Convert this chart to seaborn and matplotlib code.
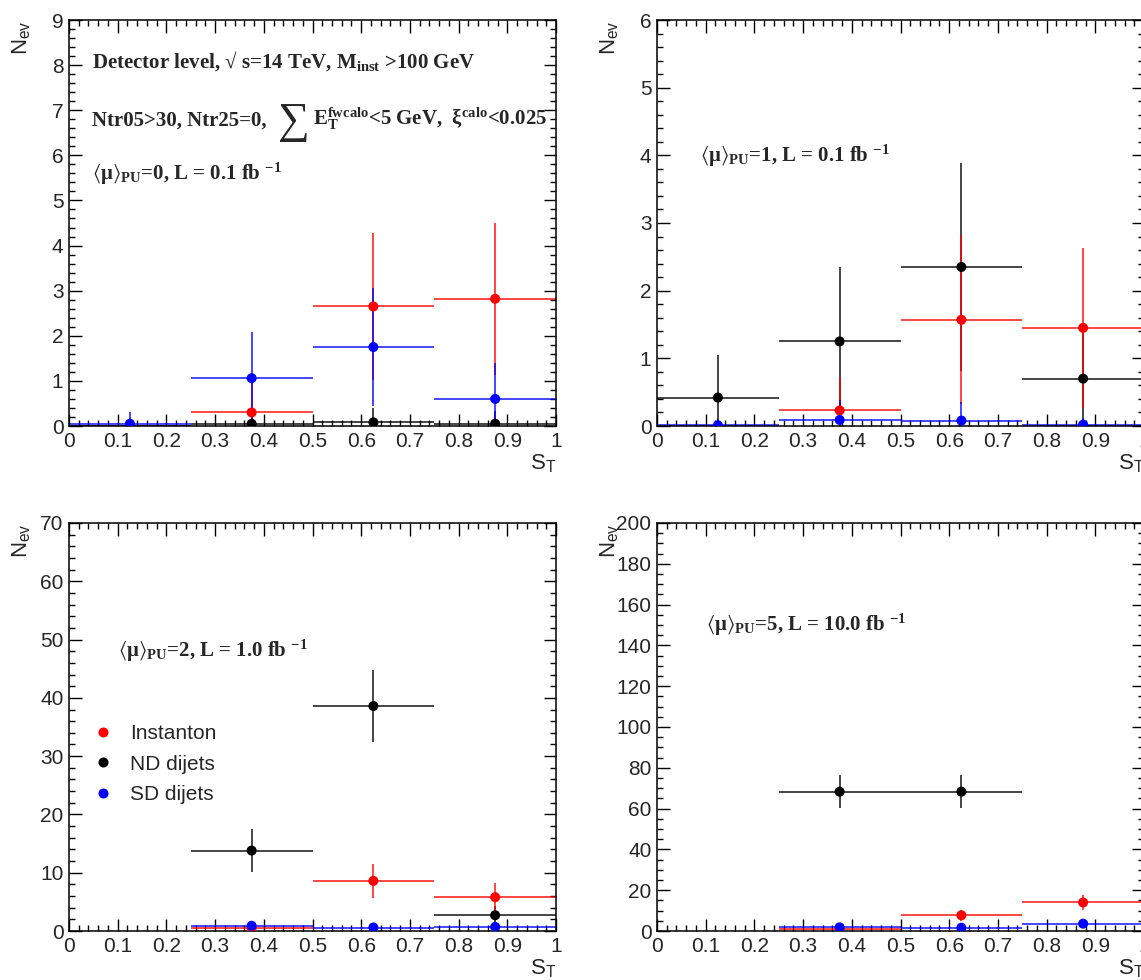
import matplotlib
matplotlib.use("Agg")
import matplotlib.pyplot as plt
from matplotlib.ticker import MultipleLocator, FuncFormatter
import numpy as np
import pandas as pd
import seaborn as sns

nan = np.nan

st_centers = [0.125, 0.375, 0.625, 0.875]
bin_half = 0.125
samples = ["Instanton", "ND dijets", "SD dijets"]
palette = {"Instanton": "#ff0000", "ND dijets": "#000000", "SD dijets": "#0000ff"}

# <mu>_PU = 0, L = 0.1 fb-1
pu0_inst = [nan, 0.30, 2.65, 2.82]
pu0_inst_err = [nan, 0.65, 1.63, 1.68]
pu0_nd = [0.0, 0.05, 0.08, 0.05]
pu0_nd_err = [0.0, 0.25, 0.32, 0.28]
pu0_sd = [0.05, 1.06, 1.75, 0.60]
pu0_sd_err = [0.25, 1.03, 1.30, 0.80]

# <mu>_PU = 1, L = 0.1 fb-1
pu1_inst = [nan, 0.23, 1.57, 1.45]
pu1_inst_err = [nan, 0.50, 1.25, 1.18]
pu1_nd = [0.42, 1.25, 2.35, 0.70]
pu1_nd_err = [0.63, 1.10, 1.53, 0.72]
pu1_sd = [0.01, 0.09, 0.08, 0.02]
pu1_sd_err = [0.10, 0.30, 0.27, 0.10]

# <mu>_PU = 2, L = 1.0 fb-1
pu2_inst = [nan, 0.5, 8.6, 5.8]
pu2_inst_err = [nan, 0.5, 2.95, 2.4]
pu2_nd = [nan, 13.8, 38.6, 2.7]
pu2_nd_err = [nan, 3.75, 6.2, 1.6]
pu2_sd = [nan, 0.9, 0.6, 0.7]
pu2_sd_err = [nan, 0.3, 0.25, 0.25]

# <mu>_PU = 5, L = 10.0 fb-1
pu5_inst = [nan, 1.2, 7.7, 14.0]
pu5_inst_err = [nan, 0.6, 2.8, 3.7]
pu5_nd = [nan, 68.3, 68.3, nan]
pu5_nd_err = [nan, 8.2, 8.2, nan]
pu5_sd = [nan, 1.8, 1.6, 3.6]
pu5_sd_err = [nan, 0.7, 0.7, 1.0]

panel_texts = [
    r"$\langle$μ$\rangle_{PU}$=0, L = 0.1 fb $^{-1}$",
    r"$\langle$μ$\rangle_{PU}$=1, L = 0.1 fb $^{-1}$",
    r"$\langle$μ$\rangle_{PU}$=2, L = 1.0 fb $^{-1}$",
    r"$\langle$μ$\rangle_{PU}$=5, L = 10.0 fb $^{-1}$",
]

sns.set_theme(style="ticks")
plt.rcParams["font.family"] = ["Liberation Sans", "DejaVu Sans"]
plt.rcParams["mathtext.default"] = "regular"
plt.rcParams["axes.linewidth"] = 1.1

serif = dict(family=["Liberation Serif", "DejaVu Serif"], weight="bold", fontsize=15)

fig = plt.figure(figsize=(11.41, 9.8), dpi=100)

W, H = 1141, 980
panels = [
    dict(rect=[69 / W, 1 - 426 / H, 487 / W, 406 / H], ymax=9, major=1, minor=0.2,
         data=[(pu0_inst, pu0_inst_err), (pu0_nd, pu0_nd_err), (pu0_sd, pu0_sd_err)],
         text=(0.047, 5.45)),
    dict(rect=[657 / W, 1 - 426 / H, 487 / W, 406 / H], ymax=6, major=1, minor=0.2,
         data=[(pu1_inst, pu1_inst_err), (pu1_nd, pu1_nd_err), (pu1_sd, pu1_sd_err)],
         text=(0.088, 3.90)),
    dict(rect=[69 / W, 1 - 931 / H, 487 / W, 408 / H], ymax=70, major=10, minor=2,
         data=[(pu2_inst, pu2_inst_err), (pu2_nd, pu2_nd_err), (pu2_sd, pu2_sd_err)],
         text=(0.10, 47.0)),
    dict(rect=[657 / W, 1 - 931 / H, 487 / W, 408 / H], ymax=200, major=20, minor=5,
         data=[(pu5_inst, pu5_inst_err), (pu5_nd, pu5_nd_err), (pu5_sd, pu5_sd_err)],
         text=(0.10, 147.0)),
]

for i, p in enumerate(panels):
    ax = fig.add_axes(p["rect"])

    rows = []
    for name, (vals, errs) in zip(samples, p["data"]):
        for x, v, e in zip(st_centers, vals, errs):
            rows.append({"S_T": x, "N_ev": v, "err": e, "sample": name})
    df = pd.DataFrame(rows).dropna()

    # error bars: full bin width horizontally, stat. error vertically
    for name in ["ND dijets", "Instanton", "SD dijets"]:
        d = df[df["sample"] == name]
        ax.errorbar(d["S_T"], d["N_ev"], xerr=bin_half, yerr=d["err"], fmt="none",
                    ecolor=palette[name], elinewidth=1.2, capsize=0, alpha=0.85)

    sns.scatterplot(data=df, x="S_T", y="N_ev", hue="sample", hue_order=samples,
                    palette=palette, s=52, linewidth=0, ax=ax, legend=(i == 2), zorder=5)

    ax.set_xlim(0, 1)
    ax.set_ylim(0, p["ymax"])
    ax.xaxis.set_major_locator(MultipleLocator(0.1))
    ax.xaxis.set_minor_locator(MultipleLocator(0.02))
    ax.yaxis.set_major_locator(MultipleLocator(p["major"]))
    ax.yaxis.set_minor_locator(MultipleLocator(p["minor"]))
    ax.xaxis.set_major_formatter(FuncFormatter(lambda v, pos: "%g" % round(v, 2)))
    ax.yaxis.set_major_formatter(FuncFormatter(lambda v, pos: "%g" % v))
    ax.tick_params(which="both", direction="in", top=True, right=True, color="black",
                   labelsize=15, width=1.0)
    ax.tick_params(which="major", length=9, pad=4)
    ax.tick_params(which="minor", length=4.5)
    for s in ax.spines.values():
        s.set_color("black")

    ax.set_xlabel(r"S$_{T}$", fontsize=16, loc="right")
    ax.xaxis.set_label_coords(1.0, -0.064)
    ax.set_ylabel("")
    ax.text(-0.0965, 1.0, r"N$_{ev}$", rotation=90, ha="center", va="top",
            fontsize=16, transform=ax.transAxes)

    ax.text(p["text"][0], p["text"][1], panel_texts[i], va="baseline", ha="left", **serif)

    if i == 0:
        ax.text(0.047, 7.94, r"Detector level, √ s=14 TeV, M$_{inst}$ >100 GeV",
                va="baseline", ha="left", **serif)
        ax.text(0.047, 6.67, "Ntr05>30, Ntr25=0,", va="baseline", ha="left", **serif)
        ax.text(0.461, 6.74, "∑", va="center", ha="center",
                family=["Liberation Serif", "DejaVu Serif"], fontsize=32)
        ax.text(0.501, 6.67, r"E$_{T}^{fwcalo}$<5 GeV,  ξ$^{calo}$<0.025",
                va="baseline", ha="left", **serif)

    if i == 2:
        handles, labels = ax.get_legend_handles_labels()
        ax.legend(handles, labels, loc="upper left", bbox_to_anchor=(0.049, 0.507),
                  frameon=False, fontsize=15, handlelength=1.0, handletextpad=0.8,
                  labelspacing=0.55, borderpad=0, borderaxespad=0, markerscale=1.0)

fig.savefig("out.png", dpi=100)
